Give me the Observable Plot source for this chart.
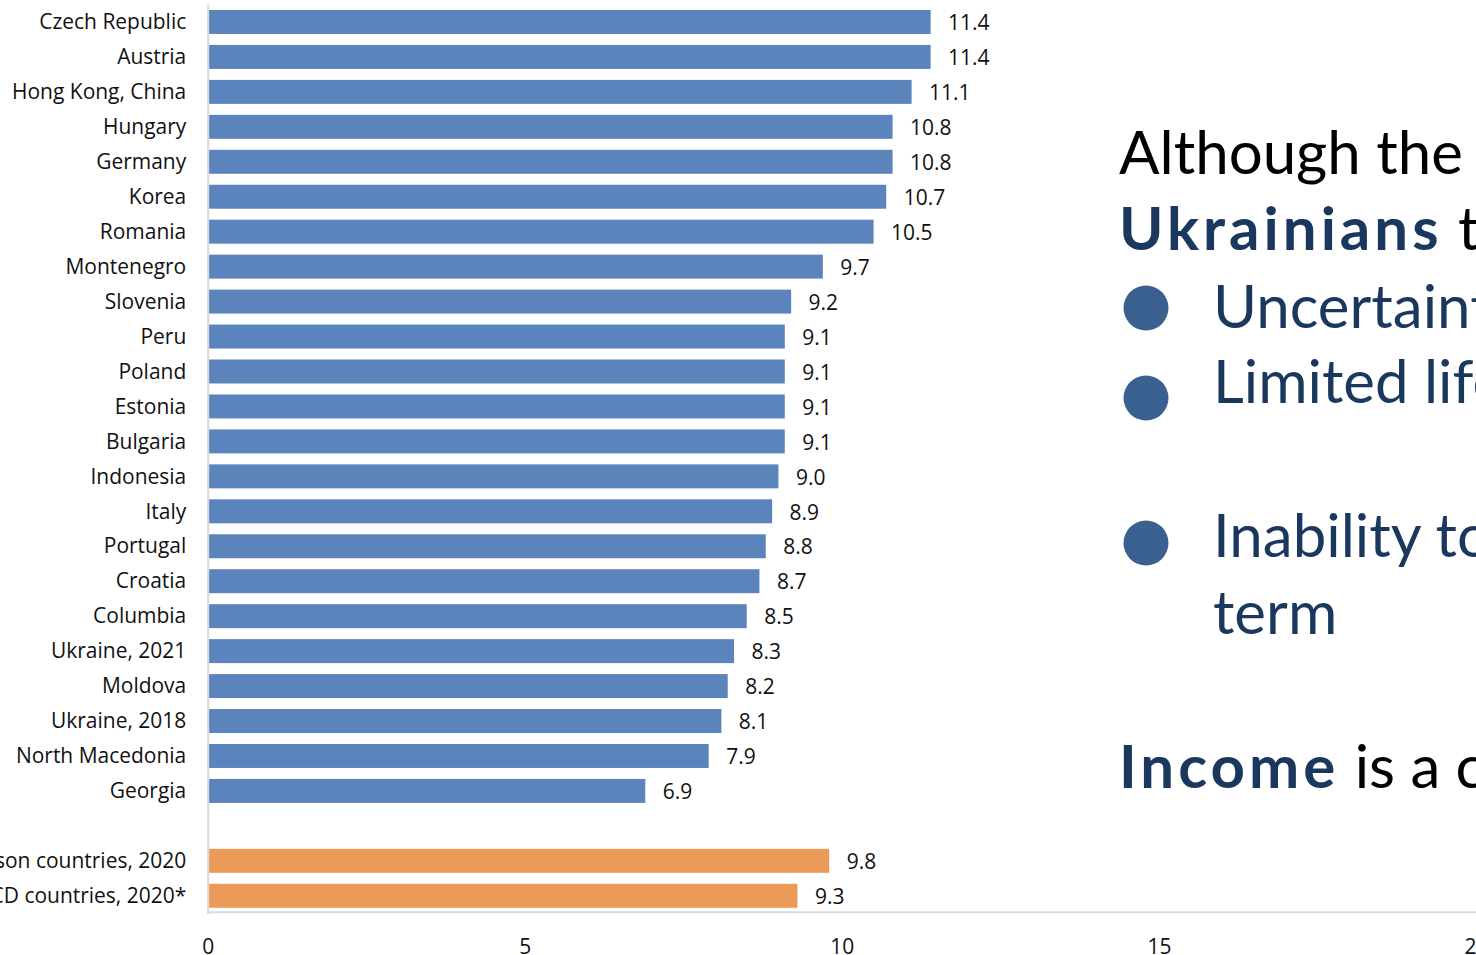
<!DOCTYPE html>
<html>
<head>
<meta charset="utf-8">
<script src="https://cdn.jsdelivr.net/npm/d3@7"></script>
<script src="https://cdn.jsdelivr.net/npm/@observablehq/plot@0.6"></script>
<style>
  html, body { margin: 0; padding: 0; background: #fff; overflow: hidden; width: 1476px; height: 955px; }
  #chart { position: absolute; left: 0; top: 0; }
  #overlay { position: absolute; left: 0; top: 0; pointer-events: none; }
</style>
</head>
<body>
<div id="chart"></div>
<svg id="overlay" width="1476" height="955"></svg>
<script>
const countries = ["Czech Republic","Austria","Hong Kong, China","Hungary","Germany","Korea","Romania","Montenegro","Slovenia","Peru","Poland","Estonia","Bulgaria","Indonesia","Italy","Portugal","Croatia","Columbia","Ukraine, 2021","Moldova","Ukraine, 2018","North Macedonia","Georgia"];
const countryValues = [11.4,11.4,11.1,10.8,10.8,10.7,10.5,9.7,9.2,9.1,9.1,9.1,9.1,9.0,8.9,8.8,8.7,8.5,8.3,8.2,8.1,7.9,6.9];
const averageLabels = ["Average for comparison countries, 2020","Average for OECD countries, 2020*"];
const averageValues = [9.8, 9.3];
const spacer = " ";
const xTicks = [0, 5, 10, 15, 20];
const groups = ["country", "average"];
const groupColors = ["#5B84BD", "#EB9A57"];

const data = [
  ...countries.map((name, i) => ({name, value: countryValues[i], group: "country"})),
  ...averageLabels.map((name, i) => ({name, value: averageValues[i], group: "average"}))
];
const yDomain = [...countries, spacer, ...averageLabels];

const chart = Plot.plot({
  width: 1478,
  height: 955,
  marginLeft: 208,
  marginRight: 0,
  marginTop: 4.5,
  marginBottom: 39.5,
  style: {fontFamily: "'Open Sans', sans-serif", fontSize: "21px", color: "#000", background: "#fff"},
  x: {domain: [0, 20], ticks: xTicks},
  y: {domain: yDomain, paddingInner: 0.31, paddingOuter: 0.155},
  color: {domain: groups, range: groupColors},
  marks: [
    Plot.barX(data, {x: "value", y: "name", fill: "group"}),
    Plot.ruleX([0], {stroke: "#d9d9d9", strokeWidth: 2}),
    Plot.ruleY([averageLabels[1]], {stroke: "#d9d9d9", strokeWidth: 2, dy: 16}),
    Plot.text(data, {x: "value", y: "name", text: d => d.value.toFixed(1), textAnchor: "start", dx: 17, dy: 1, fontSize: 21, fill: "#111"}),
    Plot.axisY({tickSize: 0, tickPadding: 22, fontSize: 21, label: null, fill: "#111"}),
    Plot.axisX({ticks: xTicks, tickSize: 0, tickPadding: 24, fontSize: 21, label: null, fill: "#111"})
  ]
});
document.getElementById("chart").appendChild(chart);

// Overlapping slide text (clipped by the window edge)
const navy = "#1A375E";
const bullet = "#3A6090";
const ov = d3.select("#overlay");
const font = "Lato, 'Open Sans', sans-serif";
function line(x, y, parts) {
  const t = ov.append("text").attr("x", x).attr("y", y).attr("font-family", font).attr("font-size", 60);
  parts.forEach(p => {
    const s = t.append("tspan").attr("fill", p.fill).attr("font-weight", p.bold ? 700 : 400).text(p.text);
    if (p.bold) s.attr("letter-spacing", 4);
  });
}
line(1119, 174, [{text: "Although the", fill: "#000"}]);
line(1119, 250, [{text: "Ukrainians", fill: navy, bold: true}, {text: " tend", fill: "#000"}]);
line(1213, 328, [{text: "Uncertainty", fill: navy}]);
line(1213, 403, [{text: "Limited life", fill: navy}]);
line(1213, 557, [{text: "Inability to", fill: navy}]);
line(1213, 634, [{text: "term", fill: navy}]);
line(1119, 788, [{text: "Income", fill: navy, bold: true}, {text: " is a c", fill: "#000"}]);
[308, 398, 543].forEach(cy => ov.append("circle").attr("cx", 1146).attr("cy", cy).attr("r", 22.5).attr("fill", bullet));
</script>
</body>
</html>
